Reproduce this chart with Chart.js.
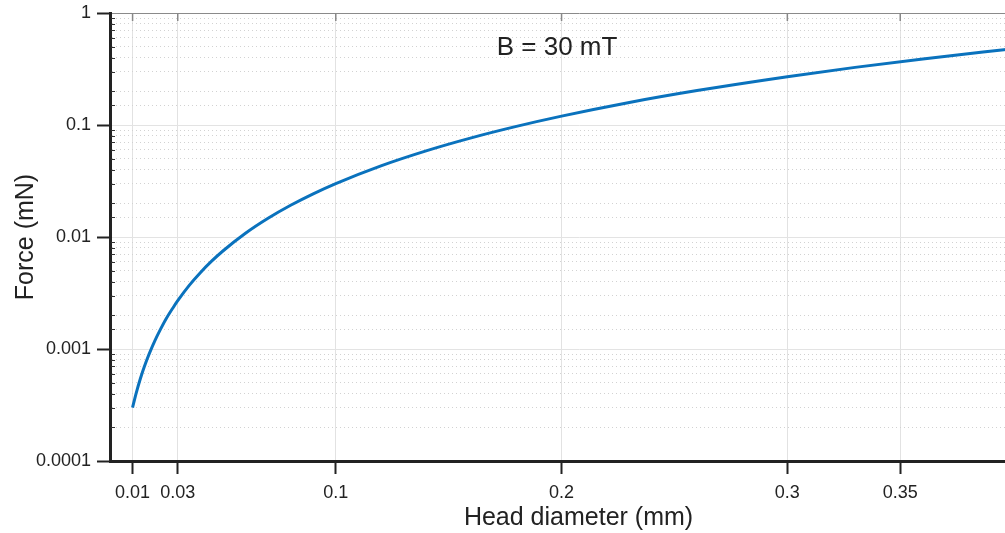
<!DOCTYPE html>
<html>
<head>
<meta charset="utf-8">
<title>Force vs head diameter</title>
<script src="https://cdn.jsdelivr.net/npm/chart.js@4"></script>
<style>
  html, body { margin: 0; padding: 0; overflow: hidden; background: #fff; }
  canvas { display: block; }
</style>
</head>
<body>
<canvas id="grafico" width="1047" height="533"></canvas>
<script>
// dados
const diameterMm = [0.01, 0.011, 0.012, 0.013, 0.014, 0.015, 0.0165, 0.018, 0.02, 0.022, 0.025, 0.028, 0.03,
                    0.035, 0.04, 0.045, 0.05, 0.06, 0.07, 0.08, 0.09, 0.1, 0.12, 0.14, 0.16, 0.18, 0.2,
                    0.23, 0.26, 0.3, 0.33, 0.36, 0.4]
const forceMn = [0.0003, 0.000363, 0.000432, 0.000507, 0.000588, 0.000675, 0.000817, 0.000972, 0.0012, 0.00145, 0.00188, 0.00235, 0.0027,
                 0.00368, 0.0048, 0.00608, 0.0075, 0.0108, 0.0147, 0.0192, 0.0243, 0.03, 0.0432, 0.0588, 0.0768, 0.0972, 0.12,
                 0.159, 0.203, 0.27, 0.327, 0.389, 0.48]

const xTickValues = [0.01, 0.03, 0.1, 0.2, 0.3, 0.35]
const yTickValues = [0.0001, 0.001, 0.01, 0.1, 1]
const yTickLabels = ['0.0001', '0.001', '0.01', '0.1', '1']

const noteText = 'B = 30 mT'
const noteAt = { x: 0.198, y: 0.485 }

const fonte = '"Liberation Sans", Arial, Helvetica, sans-serif'
const corTexto = '#222'

function isMajor(v) {
    const l = Math.log10(v)
    return Math.abs(l - Math.round(l)) < 1e-6
}

const extras = {
    id: 'extras',
    afterDatasetsDraw(chart) {
        const { ctx, chartArea, scales } = chart
        ctx.save()
        // marcas pequenas no eixo y (menores)
        ctx.strokeStyle = '#333'
        ctx.lineWidth = 1
        for (const t of scales.y.ticks) {
            if (isMajor(t.value)) continue
            const py = Math.round(scales.y.getPixelForValue(t.value)) + 0.5
            ctx.beginPath()
            ctx.moveTo(chartArea.left + 1, py)
            ctx.lineTo(chartArea.left + 5, py)
            ctx.stroke()
        }
        // marcas no topo
        ctx.strokeStyle = '#888'
        ctx.lineWidth = 1.5
        for (const v of xTickValues) {
            const px = scales.x.getPixelForValue(v)
            ctx.beginPath()
            ctx.moveTo(px, chartArea.top)
            ctx.lineTo(px, chartArea.top + 8)
            ctx.stroke()
        }
        // anotacao
        ctx.fillStyle = corTexto
        ctx.font = '26px ' + fonte
        ctx.textAlign = 'center'
        ctx.textBaseline = 'middle'
        ctx.fillText(noteText, scales.x.getPixelForValue(noteAt.x), scales.y.getPixelForValue(noteAt.y))
        ctx.restore()
    }
}

const config = {
    type: 'line',
    data: {
        datasets: [{
            label: 'Force',
            data: diameterMm.map((d, i) => ({ x: d, y: forceMn[i] })),
            borderColor: '#0a72bd',
            borderWidth: 3,
            pointRadius: 0,
            cubicInterpolationMode: 'monotone',
            fill: false
        }]
    },
    options: {
        responsive: false,
        animation: false,
        layout: { padding: { top: 13, left: 0, right: 0, bottom: 0 } },
        plugins: {
            legend: { display: false },
            tooltip: { enabled: false }
        },
        scales: {
            x: {
                type: 'linear',
                min: 0,
                max: 0.415,
                afterBuildTicks: (scale) => {
                    scale.ticks = xTickValues.map(v => ({ value: v }))
                },
                afterFit: (scale) => {
                    scale.height = 72
                    scale.paddingLeft = 0
                    scale.paddingRight = 0
                },
                ticks: {
                    autoSkip: false,
                    maxRotation: 0,
                    padding: 8,
                    color: corTexto,
                    font: { family: fonte, size: 18 },
                    callback: (v) => String(v)
                },
                grid: {
                    color: '#e2e2e2',
                    lineWidth: 1,
                    tickColor: '#222',
                    tickWidth: 2,
                    tickLength: 13
                },
                border: { color: '#222', width: 3 },
                title: {
                    display: true,
                    text: 'Head diameter (mm)',
                    color: corTexto,
                    font: { family: fonte, size: 25 },
                    padding: { top: 0, bottom: 0 }
                }
            },
            y: {
                type: 'logarithmic',
                min: 0.0001,
                max: 1,
                afterFit: (scale) => {
                    scale.width = 110
                    scale.paddingTop = 0
                    scale.paddingBottom = 0
                },
                ticks: {
                    autoSkip: false,
                    padding: 6,
                    color: corTexto,
                    font: { family: fonte, size: 18 },
                    callback: (v) => {
                        if (!isMajor(v)) return ''
                        const i = yTickValues.findIndex(t => Math.abs(Math.log10(t) - Math.log10(v)) < 1e-6)
                        return i >= 0 ? yTickLabels[i] : ''
                    }
                },
                grid: {
                    lineWidth: 1,
                    color: (c) => {
                        if (!c.tick) return '#e3e3e3'
                        if (Math.abs(c.tick.value - 1) < 1e-9) return '#8a8a8a'
                        return isMajor(c.tick.value) ? '#e3e3e3' : '#d2d2d2'
                    },
                    tickColor: '#222',
                    tickWidth: (c) => (c.tick && isMajor(c.tick.value)) ? 2 : 0,
                    tickLength: 13
                },
                border: {
                    color: '#222',
                    width: 3,
                    dash: (c) => (c.tick && !isMajor(c.tick.value)) ? [1, 3] : []
                },
                title: {
                    display: true,
                    text: 'Force (mN)',
                    color: corTexto,
                    font: { family: fonte, size: 25 },
                    padding: { top: 11, bottom: 0 }
                }
            }
        }
    },
    plugins: [extras]
}

var grafico = new Chart(document.getElementById('grafico'), config)
</script>
</body>
</html>
